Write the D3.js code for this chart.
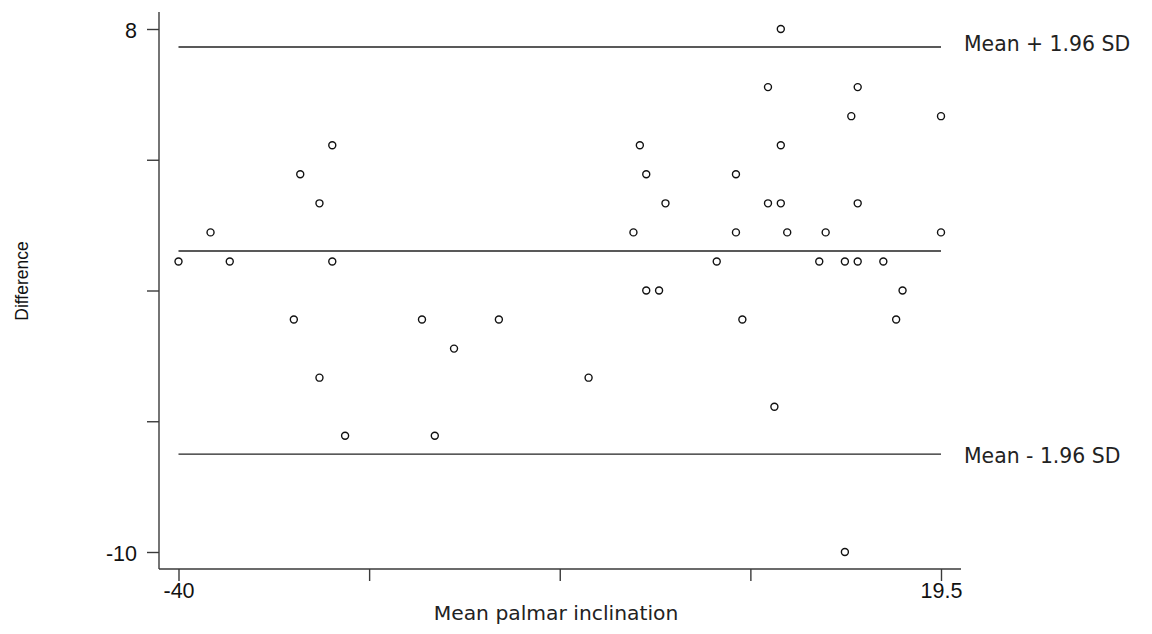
<!DOCTYPE html>
<html>
<head>
<meta charset="utf-8">
<script src="https://cdn.jsdelivr.net/npm/d3@7"></script>
<style>
  html, body { margin: 0; padding: 0; background: #fff; }
  svg { display: block; }
</style>
</head>
<body>
<svg id="chart" width="1152" height="634"></svg>
<script>
// ---- data ----
const meanPalmar = [-40, -37.5, -36, -31, -30.5, -29, -29, -28, -28, -27,
  -21, -20, -18.5, -15, -8, -4.5, -4, -3.5, -3.5, -2.5,
  -2, 2, 3.5, 3.5, 4, 6, 6, 6.5, 7, 7,
  7, 7.5, 10, 10.5, 12, 12, 12.5, 13, 13, 13,
  15, 16, 16.5, 19.5, 19.5];
const difference = [0, 1, 0, -2, 3, 2, -4, 4, 0, -6,
  -2, -6, -3, -2, -4, 1, 4, 3, -1, -1,
  2, 0, 3, 1, -2, 6, 2, -5, 8, 4,
  2, 1, 0, 1, 0, -10, 5, 6, 2, 0,
  0, -2, -1, 5, 1];

const refLineNames = ["Mean + 1.96 SD", "Mean", "Mean - 1.96 SD"];
const refLineValues = [7.38, 0.36, -6.63];
const refLineLabels = ["Mean + 1.96 SD", "", "Mean - 1.96 SD"];

const xTickValues = [-40, -25.125, -10.25, 4.625, 19.5];
const xTickLabels = ["-40", "", "", "", "19.5"];
const yTickValues = [8, 3.5, -1, -5.5, -10];
const yTickLabels = ["8", "", "", "", "-10"];

const xTitle = "Mean palmar inclination";
const yTitle = "Difference";

// ---- drawing ----
const svg = d3.select("#chart");
const xDomainMin = -40, xDomainMax = 19.5;
const yDomainMin = -10, yDomainMax = 8;

// axes extend ~20px beyond the data range
const plotLeft = 159, plotRight = 961, plotTop = 12, plotBottom = 569;
const xPadPx = 19.5, yPadPx = 17;

const x = d3.scaleLinear()
  .domain([xDomainMin, xDomainMax])
  .range([plotLeft + xPadPx, plotRight - xPadPx - 0.5]);
const y = d3.scaleLinear()
  .domain([yDomainMin, yDomainMax])
  .range([plotBottom - yPadPx, plotTop + yPadPx]);

const axisColor = "#3a3a3a";
const tickFont = "'Liberation Sans', Arial, sans-serif";
const titleFont = "'DejaVu Sans', Verdana, sans-serif";

// Y axis
const yAxis = d3.axisLeft(y)
  .tickValues(yTickValues)
  .tickFormat((d, i) => yTickLabels[i])
  .tickSize(12)
  .tickSizeOuter(0)
  .tickPadding(10);
const gy = svg.append("g")
  .attr("transform", `translate(${plotLeft},0)`)
  .call(yAxis);
gy.select(".domain").remove();
gy.append("line")
  .attr("x1", 0).attr("x2", 0)
  .attr("y1", plotTop).attr("y2", plotBottom)
  .attr("stroke", axisColor).attr("stroke-width", 1.4);
gy.selectAll(".tick line").attr("stroke", axisColor).attr("stroke-width", 1.4);
gy.selectAll(".tick text")
  .attr("font-family", tickFont)
  .attr("font-size", 21.5)
  .attr("fill", "#111")
  .attr("dy", "0.38em");

// X axis
const xAxis = d3.axisBottom(x)
  .tickValues(xTickValues)
  .tickFormat((d, i) => xTickLabels[i])
  .tickSize(12)
  .tickSizeOuter(0)
  .tickPadding(2);
const gx = svg.append("g")
  .attr("transform", `translate(0,${plotBottom})`)
  .call(xAxis);
gx.select(".domain").remove();
gx.append("line")
  .attr("x1", plotLeft).attr("x2", plotRight)
  .attr("y1", 0).attr("y2", 0)
  .attr("stroke", axisColor).attr("stroke-width", 1.4);
gx.selectAll(".tick line").attr("stroke", axisColor).attr("stroke-width", 1.4);
gx.selectAll(".tick text")
  .attr("font-family", tickFont)
  .attr("font-size", 21.5)
  .attr("fill", "#111")
  .attr("dy", "0.72em");

// Reference lines
svg.append("g").selectAll("line")
  .data(refLineValues)
  .join("line")
  .attr("x1", x(xDomainMin))
  .attr("x2", x(xDomainMax))
  .attr("y1", d => y(d))
  .attr("y2", d => y(d))
  .attr("stroke", "#222")
  .attr("stroke-width", 1.4);

// Reference line labels
const labelOffsets = [3.5, 0, 8.5];
svg.append("g").selectAll("text")
  .data(refLineValues)
  .join("text")
  .attr("x", x(xDomainMax) + 23)
  .attr("y", (d, i) => y(d) + labelOffsets[i])
  .attr("font-family", titleFont)
  .attr("font-size", 20.4)
  .attr("fill", "#222")
  .text((d, i) => refLineLabels[i]);

// Points
const points = meanPalmar.map((m, i) => ({ m, d: difference[i] }));
svg.append("g").selectAll("circle")
  .data(points)
  .join("circle")
  .attr("cx", p => x(p.m))
  .attr("cy", p => y(p.d))
  .attr("r", 3.5)
  .attr("fill", "#fff")
  .attr("stroke", "#111")
  .attr("stroke-width", 1.4);

// Axis titles
svg.append("text")
  .attr("x", (plotLeft + plotRight) / 2 - 4)
  .attr("y", 620)
  .attr("text-anchor", "middle")
  .attr("font-family", titleFont)
  .attr("font-size", 20.3)
  .attr("fill", "#222")
  .text(xTitle);

svg.append("text")
  .attr("transform", "translate(28,281) rotate(-90)")
  .attr("text-anchor", "middle")
  .attr("font-family", tickFont)
  .attr("font-size", 17.5)
  .attr("fill", "#111")
  .text(yTitle);
</script>
</body>
</html>
